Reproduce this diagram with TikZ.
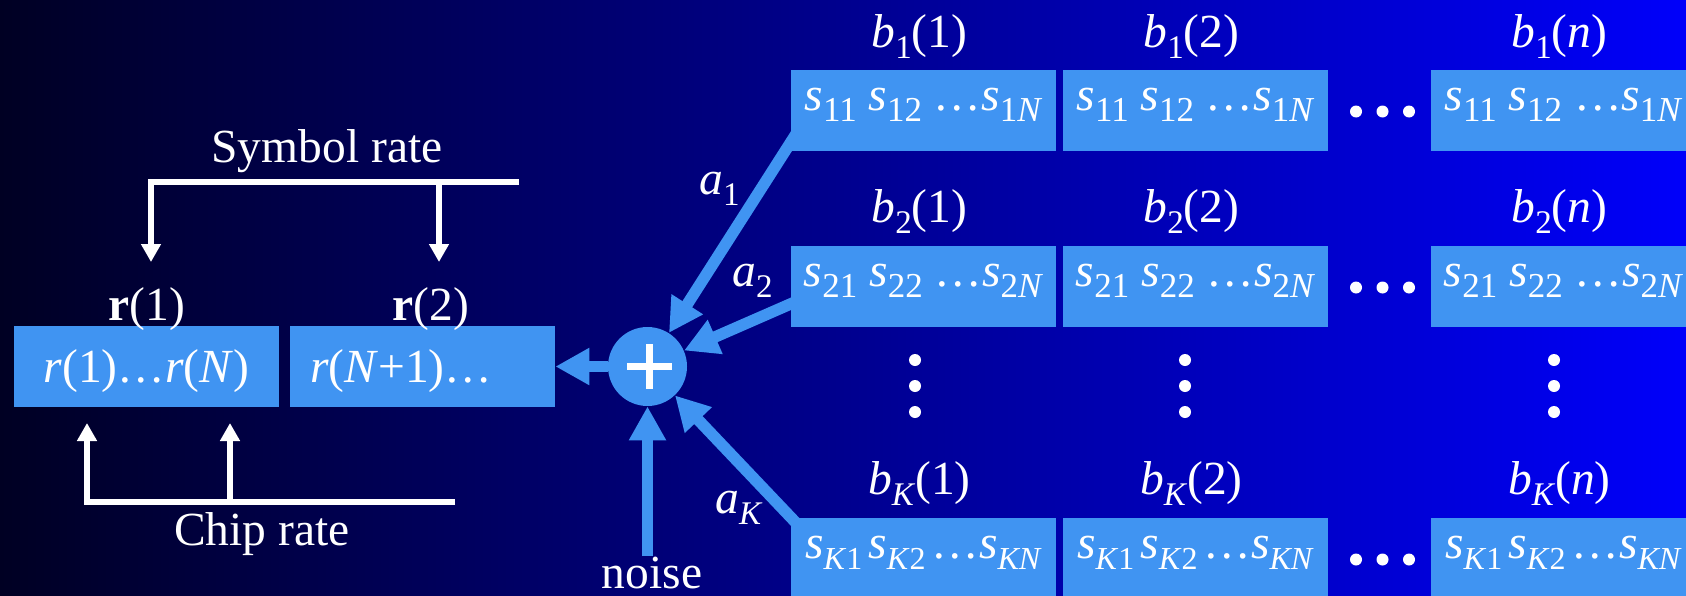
\documentclass[tikz,border=0pt]{standalone}
\usepackage{fontspec}
\setmainfont{Liberation Serif}
\usetikzlibrary{arrows.meta,calc}
\definecolor{bgL}{RGB}{0,0,35}
\definecolor{bgM}{RGB}{0,0,185}
\definecolor{bgR}{RGB}{0,0,250}
\definecolor{boxblue}{RGB}{64,148,242}
\newcommand\sbx[1]{\raisebox{-5.5pt}{\fontsize{16.5}{18}\selectfont #1}}
\newcommand\ssb[1]{\raisebox{-5.5pt}{\fontsize{17.5}{19}\selectfont #1}}
\newcommand\ssk[1]{\raisebox{-5.5pt}{\fontsize{16}{18}\selectfont #1}}
\newcommand\ii[1]{\textit{#1}}
\newcommand\sdots{…}
\newcommand\ksp{\hspace{3pt}}
\begin{document}
\begin{tikzpicture}[x=0.5pt,y=-0.5pt,
  every node/.style={text=white, font=\fontsize{23.75}{28}\selectfont, inner sep=0pt},
  sbox/.style={fill=boxblue, minimum width=132.5pt, minimum height=40.5pt,
    text height=10pt, text depth=10pt},
  rbox/.style={fill=boxblue, minimum width=132.5pt, minimum height=40.5pt,
    text height=20pt, text depth=4.5pt},
  lab/.style={anchor=base},
  alab/.style={anchor=base west},
  thickarrow/.style={draw=boxblue, line width=5.75pt, -{Triangle[length=17pt,width=17.5pt]}},
  whitearrow/.style={draw=white, line width=2.75pt, line join=miter, -{Triangle[length=9pt,width=9.5pt]}},
  dot/.style={fill=white}]
\useasboundingbox (0,0) rectangle (1686,595);
\clip (0,0) rectangle (1686,595);
\shade[left color=bgL, middle color=bgM, right color=bgR] (0,0) rectangle (1686,595);

% left receiver boxes
\node[rbox] (r1) at (146.5,366.5) {\ii{r}(1)…\ii{r}(\ii{N})};
\node[rbox, text width=112.5pt, align=left, inner xsep=10pt] (r2) at (422.5,366.5) {\ii{r}(\ii{N}+1)…};
\node[lab] (r1lab) at (147,320) {\textbf{r}(1)};
\node[lab] (r2lab) at (431,320) {\textbf{r}(2)};

% symbol rate bracket
\node[lab] (srlab) at (327,162) {Symbol rate};
\coordinate (srE) at (519,182);
\coordinate (srA) at (151,182);
\coordinate (srB) at (439,182);
\coordinate (srT1) at (151,262);
\coordinate (srT2) at (439,262);
\draw[whitearrow] (srE) -- (srA) -- (srT1);
\draw[whitearrow] (srB) -- (srT2);

% chip rate bracket
\node[lab] (crlab) at (262,545) {Chip rate};
\coordinate (crE) at (455,502);
\coordinate (crA) at (87,502);
\coordinate (crB) at (230,502);
\coordinate (crT1) at (87,423);
\coordinate (crT2) at (230,423);
\draw[whitearrow] (crE) -- (crA) -- (crT1);
\draw[whitearrow] (crB) -- (crT2);

% summing junction
\node[circle, fill=boxblue, minimum size=39.5pt] (plus) at (647.5,366.5) {};
\draw[white, line width=3.3pt] ($(plus.center)+(-20.5,0)$) -- ($(plus.center)+(24.5,0)$);
\draw[white, line width=3.3pt] ($(plus.center)+(2,-22.5)$) -- ($(plus.center)+(2,22.5)$);
\node[lab] (noise) at (652,588) {noise};

% user blocks
\node[sbox] (b11) at (923.5,110.5) {\ii{s}\ssb{11} \ii{s}\ssb{12} \sdots\ii{s}\ssb{1\ii{N}}};
\node[sbox] (b12) at (1195.5,110.5) {\ii{s}\ssb{11} \ii{s}\ssb{12} \sdots\ii{s}\ssb{1\ii{N}}};
\node[sbox] (b1n) at (1563.5,110.5) {\ii{s}\ssb{11} \ii{s}\ssb{12} \sdots\ii{s}\ssb{1\ii{N}}};
\node[sbox] (b21) at (923.5,286.5) {\ii{s}\ssb{21} \ii{s}\ssb{22} \sdots\ii{s}\ssb{2\ii{N}}};
\node[sbox] (b22) at (1195.5,286.5) {\ii{s}\ssb{21} \ii{s}\ssb{22} \sdots\ii{s}\ssb{2\ii{N}}};
\node[sbox] (b2n) at (1563.5,286.5) {\ii{s}\ssb{21} \ii{s}\ssb{22} \sdots\ii{s}\ssb{2\ii{N}}};
\node[sbox] (bK1) at (923.5,558.5) {\ii{s}\ssk{\ii{K}1}\ksp\ii{s}\ssk{\ii{K}2}\ksp\sdots\ii{s}\ssk{\ii{KN}}};
\node[sbox] (bK2) at (1195.5,558.5) {\ii{s}\ssk{\ii{K}1}\ksp\ii{s}\ssk{\ii{K}2}\ksp\sdots\ii{s}\ssk{\ii{KN}}};
\node[sbox] (bKn) at (1563.5,558.5) {\ii{s}\ssk{\ii{K}1}\ksp\ii{s}\ssk{\ii{K}2}\ksp\sdots\ii{s}\ssk{\ii{KN}}};

% labels above blocks
\node[lab] (l11) at (919.5,47) {\ii{b}\sbx{1}(1)};
\node[lab] (l12) at (1191.5,47) {\ii{b}\sbx{1}(2)};
\node[lab] (l1n) at (1559.5,47) {\ii{b}\sbx{1}(\ii{n})};
\node[lab] (l21) at (919.5,222) {\ii{b}\sbx{2}(1)};
\node[lab] (l22) at (1191.5,222) {\ii{b}\sbx{2}(2)};
\node[lab] (l2n) at (1559.5,222) {\ii{b}\sbx{2}(\ii{n})};
\node[lab] (lK1) at (919.5,494) {\ii{b}\sbx{\ii{K}}(1)};
\node[lab] (lK2) at (1191.5,494) {\ii{b}\sbx{\ii{K}}(2)};
\node[lab] (lKn) at (1559.5,494) {\ii{b}\sbx{\ii{K}}(\ii{n})};

% horizontal dots
\foreach \yy in {111.5,287.5,559.5}{
  \foreach \xx in {1356,1382.5,1409}{\fill[dot] (\xx,\yy) circle[radius=3pt];}}
% vertical dots
\foreach \xx in {915,1185,1554}{
  \foreach \yy in {360,386,412}{\fill[dot] (\xx,\yy) circle[radius=3pt];}}

% connectors
\draw[thickarrow] (plus) -- (r2);
\draw[thickarrow] ($(b11.south west)+(9,-23)$) -- (plus);
\draw[thickarrow] ($(b21.west)+(9,13.5)$) -- (plus);
\draw[thickarrow] ($(bK1.north west)+(9,9)$) -- (plus);
\draw[thickarrow] (noise.north -| plus) -- (plus);

% gain labels
\node[alab] (a1) at (699,194) {\ii{a}\sbx{1}};
\node[alab] (a2) at (732,286) {\ii{a}\sbx{2}};
\node[alab] (aK) at (715,513) {\ii{a}\sbx{\ii{K}}};
\end{tikzpicture}
\end{document}
